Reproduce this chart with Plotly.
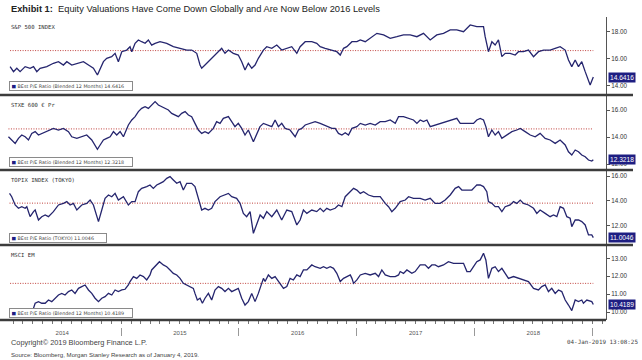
import plotly.graph_objects as go
from datetime import datetime

# ---------------- data (time as decimal year, value = BEst P/E ratio) ----------------
sp_t = [2014.057, 2014.086, 2014.114, 2014.142, 2014.185, 2014.227, 2014.256, 2014.284, 2014.312, 2014.369,
        2014.425, 2014.468, 2014.510, 2014.539, 2014.581, 2014.624, 2014.680, 2014.723, 2014.765, 2014.799,
        2014.822, 2014.850, 2014.878, 2014.920, 2014.949, 2014.977, 2015.006, 2015.048, 2015.076, 2015.091,
        2015.119, 2015.147, 2015.175, 2015.204, 2015.232, 2015.260, 2015.289, 2015.331, 2015.388, 2015.444,
        2015.501, 2015.558, 2015.600, 2015.643, 2015.671, 2015.685, 2015.713, 2015.742, 2015.784, 2015.827,
        2015.855, 2015.883, 2015.912, 2015.954, 2015.996, 2016.025, 2016.053, 2016.081, 2016.110, 2016.138,
        2016.166, 2016.209, 2016.237, 2016.280, 2016.322, 2016.364, 2016.407, 2016.449, 2016.492, 2016.520,
        2016.563, 2016.619, 2016.661, 2016.690, 2016.732, 2016.775, 2016.831, 2016.860, 2016.888, 2016.916,
        2016.959, 2017.001, 2017.030, 2017.072, 2017.114, 2017.171, 2017.228, 2017.284, 2017.341, 2017.397,
        2017.454, 2017.511, 2017.567, 2017.624, 2017.680, 2017.737, 2017.794, 2017.850, 2017.907, 2017.964,
        2018.020, 2018.077, 2018.091, 2018.119, 2018.148, 2018.176, 2018.204, 2018.233, 2018.261, 2018.303,
        2018.346, 2018.374, 2018.417, 2018.459, 2018.502, 2018.544, 2018.587, 2018.643, 2018.686, 2018.728,
        2018.771, 2018.799, 2018.827, 2018.856, 2018.884, 2018.912, 2018.941, 2018.983, 2019.010]
sp_v = [15.41, 15.04, 15.29, 15.04, 15.41, 15.29, 15.41, 15.04, 15.29, 15.41,
        15.66, 15.78, 15.53, 15.78, 15.53, 15.66, 15.78, 15.53, 15.29, 14.79,
        15.29, 15.78, 16.03, 16.15, 16.40, 15.78, 16.52, 16.64, 16.89, 16.52,
        17.14, 17.39, 17.26, 17.14, 17.39, 17.01, 17.14, 17.26, 17.14, 16.89,
        16.77, 16.64, 16.64, 16.40, 15.53, 15.29, 15.53, 15.78, 16.15, 16.52,
        16.77, 16.40, 16.64, 16.40, 16.27, 15.78, 15.16, 15.66, 15.29, 15.53,
        16.03, 16.64, 16.89, 16.77, 17.01, 16.64, 16.77, 16.89, 16.40, 16.89,
        17.26, 17.26, 17.14, 16.89, 16.77, 16.64, 16.52, 16.27, 16.77, 16.89,
        17.26, 17.26, 17.39, 17.26, 17.51, 17.88, 17.76, 17.51, 17.63, 17.76,
        17.76, 17.63, 17.88, 17.39, 17.76, 17.88, 18.13, 18.13, 18.00, 18.50,
        18.37, 18.37, 17.63, 16.52, 17.26, 17.01, 17.39, 16.15, 16.40, 16.40,
        16.27, 16.52, 16.52, 16.64, 16.15, 16.52, 16.64, 16.64, 16.77, 16.89,
        16.64, 15.90, 15.41, 15.90, 15.41, 15.78, 15.04, 14.05, 14.6416]

stxe_t = [2014.043, 2014.071, 2014.100, 2014.128, 2014.156, 2014.185, 2014.213, 2014.241, 2014.270, 2014.298,
          2014.326, 2014.369, 2014.425, 2014.468, 2014.510, 2014.553, 2014.581, 2014.624, 2014.666, 2014.708,
          2014.751, 2014.779, 2014.799, 2014.822, 2014.850, 2014.878, 2014.907, 2014.935, 2014.963, 2014.992,
          2015.020, 2015.062, 2015.091, 2015.119, 2015.147, 2015.175, 2015.204, 2015.232, 2015.260, 2015.289,
          2015.317, 2015.345, 2015.374, 2015.402, 2015.430, 2015.459, 2015.487, 2015.515, 2015.544, 2015.572,
          2015.600, 2015.628, 2015.657, 2015.685, 2015.713, 2015.742, 2015.784, 2015.812, 2015.841, 2015.869,
          2015.912, 2015.940, 2015.968, 2015.996, 2016.025, 2016.053, 2016.081, 2016.124, 2016.152, 2016.180,
          2016.209, 2016.251, 2016.280, 2016.308, 2016.336, 2016.364, 2016.393, 2016.435, 2016.478, 2016.506,
          2016.534, 2016.563, 2016.605, 2016.647, 2016.690, 2016.718, 2016.746, 2016.789, 2016.817, 2016.845,
          2016.874, 2016.902, 2016.930, 2016.959, 2017.001, 2017.030, 2017.072, 2017.114, 2017.157, 2017.199,
          2017.242, 2017.284, 2017.327, 2017.355, 2017.397, 2017.440, 2017.482, 2017.511, 2017.539, 2017.567,
          2017.596, 2017.624, 2017.666, 2017.709, 2017.751, 2017.794, 2017.850, 2017.879, 2017.907, 2017.949,
          2017.992, 2018.020, 2018.049, 2018.077, 2018.097, 2018.119, 2018.148, 2018.176, 2018.204, 2018.233,
          2018.275, 2018.318, 2018.360, 2018.389, 2018.431, 2018.474, 2018.516, 2018.558, 2018.601, 2018.643,
          2018.686, 2018.728, 2018.771, 2018.799, 2018.827, 2018.856, 2018.884, 2018.912, 2018.941, 2018.969,
          2018.997, 2019.010]
stxe_v = [14.02, 13.78, 13.53, 13.90, 14.15, 14.02, 13.78, 14.27, 14.40, 14.15,
          14.27, 14.40, 14.64, 14.52, 14.64, 14.40, 14.02, 13.90, 14.02, 14.15,
          13.78, 13.41, 13.09, 13.41, 13.78, 13.90, 14.02, 14.40, 14.15, 14.40,
          14.02, 14.89, 15.26, 15.51, 15.88, 16.12, 16.25, 16.12, 16.37, 16.62,
          16.37, 16.25, 16.12, 16.00, 15.75, 15.63, 15.51, 15.75, 15.88, 15.63,
          15.51, 15.01, 14.52, 14.27, 14.40, 14.27, 14.64, 15.14, 15.01, 15.38,
          15.51, 15.14, 14.77, 15.01, 14.64, 14.15, 14.52, 13.65, 14.15, 14.77,
          15.01, 14.89, 14.77, 15.26, 14.77, 15.01, 14.64, 14.52, 14.02, 14.52,
          14.64, 14.89, 15.01, 15.14, 15.01, 14.89, 14.77, 14.64, 14.64, 14.27,
          14.15, 14.32, 14.15, 14.64, 14.77, 15.01, 14.89, 15.01, 14.89, 15.14,
          15.14, 15.26, 15.01, 15.51, 15.51, 15.38, 15.26, 15.01, 15.26, 15.14,
          15.26, 14.77, 14.89, 15.01, 15.14, 15.26, 15.38, 15.01, 15.01, 15.01,
          15.01, 15.26, 15.38, 15.26, 14.77, 14.02, 14.52, 14.15, 14.40, 13.90,
          14.15, 14.40, 14.52, 14.64, 14.40, 14.15, 14.02, 14.27, 13.90, 13.78,
          13.53, 13.78, 13.41, 12.91, 12.67, 13.04, 12.91, 12.67, 12.54, 12.30,
          12.22, 12.3218]

topix_t = [2014.052, 2014.071, 2014.100, 2014.128, 2014.156, 2014.185, 2014.199, 2014.227, 2014.256, 2014.270,
           2014.298, 2014.326, 2014.355, 2014.383, 2014.425, 2014.468, 2014.510, 2014.539, 2014.567, 2014.595,
           2014.624, 2014.666, 2014.708, 2014.737, 2014.765, 2014.793, 2014.808, 2014.836, 2014.864, 2014.893,
           2014.921, 2014.949, 2014.977, 2015.020, 2015.062, 2015.091, 2015.119, 2015.147, 2015.175, 2015.218,
           2015.246, 2015.274, 2015.303, 2015.331, 2015.359, 2015.388, 2015.416, 2015.444, 2015.473, 2015.501,
           2015.529, 2015.558, 2015.600, 2015.628, 2015.657, 2015.685, 2015.713, 2015.742, 2015.770, 2015.798,
           2015.841, 2015.883, 2015.912, 2015.940, 2015.982, 2016.011, 2016.039, 2016.067, 2016.096, 2016.124,
           2016.152, 2016.181, 2016.209, 2016.237, 2016.280, 2016.322, 2016.364, 2016.407, 2016.449, 2016.492,
           2016.520, 2016.548, 2016.577, 2016.619, 2016.661, 2016.690, 2016.718, 2016.746, 2016.775, 2016.817,
           2016.845, 2016.874, 2016.902, 2016.930, 2016.973, 2017.001, 2017.030, 2017.058, 2017.100, 2017.143,
           2017.199, 2017.242, 2017.270, 2017.298, 2017.327, 2017.369, 2017.412, 2017.440, 2017.482, 2017.539,
           2017.581, 2017.624, 2017.666, 2017.709, 2017.751, 2017.794, 2017.836, 2017.865, 2017.893, 2017.936,
           2017.978, 2018.006, 2018.020, 2018.049, 2018.077, 2018.105, 2018.119, 2018.148, 2018.176, 2018.204,
           2018.233, 2018.261, 2018.303, 2018.332, 2018.360, 2018.389, 2018.417, 2018.459, 2018.502, 2018.530,
           2018.558, 2018.601, 2018.643, 2018.672, 2018.700, 2018.728, 2018.757, 2018.785, 2018.813, 2018.827,
           2018.856, 2018.884, 2018.912, 2018.941, 2018.969, 2018.997, 2019.010]
topix_v = [14.59, 14.32, 13.65, 13.38, 13.51, 13.38, 13.51, 12.70, 13.11, 13.24,
           12.43, 12.70, 12.84, 12.70, 13.11, 13.65, 13.78, 13.92, 13.65, 13.78,
           13.24, 13.65, 13.78, 14.05, 13.65, 12.70, 12.30, 13.24, 14.19, 14.46,
           14.32, 14.59, 14.05, 14.32, 13.65, 13.92, 13.92, 14.73, 15.00, 15.14,
           15.27, 15.00, 15.27, 15.41, 15.54, 15.81, 15.95, 15.68, 15.41, 15.54,
           14.86, 15.41, 15.41, 15.14, 14.19, 13.24, 13.38, 13.24, 13.38, 13.92,
           14.32, 14.46, 14.59, 14.32, 14.19, 13.78, 12.97, 12.70, 13.11, 11.35,
           12.16, 12.84, 12.57, 13.11, 12.70, 13.24, 12.43, 13.24, 13.11, 12.03,
           12.43, 13.24, 12.97, 13.24, 13.11, 13.38, 13.11, 13.38, 13.24, 13.38,
           13.65, 13.51, 14.32, 14.59, 15.00, 14.86, 14.59, 14.73, 14.46, 14.32,
           14.32, 13.78, 13.51, 13.11, 13.38, 13.92, 14.05, 14.32, 14.19, 14.19,
           14.05, 14.19, 13.78, 13.78, 14.05, 14.46, 15.00, 15.14, 14.86, 14.86,
           14.86, 15.14, 15.27, 15.27, 15.14, 14.73, 13.92, 13.78, 13.51, 13.51,
           13.11, 13.51, 13.65, 13.92, 13.78, 14.05, 13.78, 13.65, 13.38, 12.97,
           13.24, 12.97, 12.70, 12.84, 12.70, 13.51, 13.38, 12.70, 12.57, 11.89,
           12.43, 12.43, 12.30, 12.03, 11.22, 11.22, 11.0046]

msci_t = [2014.057, 2014.100, 2014.142, 2014.185, 2014.227, 2014.256, 2014.270, 2014.298, 2014.326, 2014.355,
          2014.383, 2014.411, 2014.439, 2014.468, 2014.496, 2014.524, 2014.553, 2014.581, 2014.609, 2014.638,
          2014.666, 2014.694, 2014.723, 2014.751, 2014.779, 2014.808, 2014.836, 2014.864, 2014.893, 2014.921,
          2014.949, 2014.977, 2015.006, 2015.034, 2015.062, 2015.076, 2015.105, 2015.133, 2015.161, 2015.190,
          2015.218, 2015.246, 2015.260, 2015.289, 2015.326, 2015.359, 2015.388, 2015.416, 2015.444, 2015.473,
          2015.501, 2015.529, 2015.558, 2015.586, 2015.614, 2015.628, 2015.648, 2015.671, 2015.691, 2015.713,
          2015.742, 2015.770, 2015.798, 2015.827, 2015.855, 2015.883, 2015.912, 2015.940, 2015.968, 2015.996,
          2016.025, 2016.053, 2016.081, 2016.110, 2016.138, 2016.166, 2016.209, 2016.223, 2016.251, 2016.280,
          2016.308, 2016.336, 2016.379, 2016.407, 2016.435, 2016.463, 2016.492, 2016.520, 2016.548, 2016.577,
          2016.619, 2016.647, 2016.690, 2016.718, 2016.746, 2016.775, 2016.803, 2016.831, 2016.860, 2016.888,
          2016.916, 2016.945, 2016.959, 2016.973, 2017.001, 2017.030, 2017.072, 2017.114, 2017.157, 2017.185,
          2017.213, 2017.242, 2017.284, 2017.327, 2017.355, 2017.369, 2017.397, 2017.426, 2017.468, 2017.496,
          2017.539, 2017.581, 2017.609, 2017.638, 2017.666, 2017.694, 2017.737, 2017.779, 2017.822, 2017.865,
          2017.907, 2017.936, 2017.964, 2017.992, 2018.020, 2018.049, 2018.077, 2018.097, 2018.119, 2018.148,
          2018.176, 2018.204, 2018.233, 2018.261, 2018.289, 2018.332, 2018.374, 2018.417, 2018.459, 2018.502,
          2018.544, 2018.572, 2018.601, 2018.629, 2018.657, 2018.686, 2018.714, 2018.742, 2018.771, 2018.799,
          2018.827, 2018.856, 2018.884, 2018.912, 2018.926, 2018.955, 2018.997, 2019.010]
msci_v = [9.95, 9.85, 10.00, 10.02, 10.05, 10.21, 10.49, 10.58, 10.49, 10.49,
          10.67, 10.58, 10.77, 10.95, 11.04, 10.95, 11.14, 11.23, 11.04, 11.32,
          11.42, 11.51, 11.23, 11.04, 10.77, 10.58, 10.77, 10.86, 11.04, 10.95,
          11.23, 11.14, 11.23, 11.27, 11.51, 11.70, 11.98, 11.88, 12.07, 11.98,
          11.79, 12.07, 12.35, 12.53, 12.81, 12.63, 12.53, 12.35, 12.16, 12.07,
          11.88, 11.60, 11.51, 11.42, 11.32, 11.04, 10.67, 10.77, 10.49, 10.77,
          11.04, 10.67, 11.23, 11.42, 11.32, 11.14, 11.32, 11.14, 11.23, 11.32,
          10.77, 10.39, 10.58, 11.04, 10.58, 11.04, 11.88, 11.70, 12.07, 11.88,
          11.98, 11.70, 11.32, 11.42, 11.88, 11.79, 12.07, 11.98, 12.35, 12.35,
          12.63, 12.53, 12.44, 12.53, 12.44, 12.53, 12.44, 12.16, 11.70, 11.88,
          11.98, 12.07, 11.88, 11.60, 11.79, 12.07, 12.16, 12.07, 12.16, 11.98,
          12.35, 12.07, 11.98, 11.98, 12.07, 12.26, 12.16, 12.35, 12.16, 12.26,
          12.63, 12.63, 12.44, 12.63, 12.63, 12.53, 12.63, 12.81, 12.72, 12.72,
          12.72, 12.26, 12.26, 12.53, 12.81, 12.91, 13.28, 12.91, 11.88, 12.44,
          12.53, 12.26, 12.44, 12.16, 11.88, 11.98, 11.88, 11.79, 11.70, 11.32,
          11.23, 11.42, 11.51, 11.14, 11.32, 11.04, 11.23, 11.14, 10.67, 10.39,
          10.08, 10.67, 10.58, 10.67, 10.49, 10.67, 10.58, 10.4189]

panel_names = ["S&P 500 INDEX", "STXE 600 € Pr", "TOPIX INDEX (TOKYO)", "MSCI EM"]
legend_names = ["BEst P/E Ratio (Blended 12 Months)", "BEst P/E Ratio (Blended 12 Months)",
                "BEst P/E Ratio (TOKYO)", "BEst P/E Ratio (Blended 12 Months)"]
last_values = ["14.6416", "12.3218", "11.0046", "10.4189"]
level_2016 = [16.6, 14.6, 13.8, 11.6]           # red dotted reference levels
y_ranges = [[13.31, 19.09], [11.56, 17.11], [10.40, 16.49], [9.553, 13.743]]
y_ticks = [[14, 16, 18], [12, 14, 16], [12, 14, 16], [10, 11, 12, 13]]

title_bold = "Exhibit 1:"
title_text = "Equity Valuations Have Come Down Globally and Are Now Below 2016 Levels"
copyright_text = "Copyright© 2019 Bloomberg Finance L.P."
stamp_text = "04-Jan-2019 13:08:25"
source_text = "Source: Bloomberg, Morgan Stanley Research as of January 4, 2019."

# ---------------- helpers ----------------
W, H = 642, 360
def px(x):
    return x / W
def py(y):
    return 1 - y / H

def to_date(t):
    y = int(t)
    a, b = datetime(y, 1, 1), datetime(y + 1, 1, 1)
    return a + (b - a) * (t - y)

series = [(sp_t, sp_v), (stxe_t, stxe_v), (topix_t, topix_v), (msci_t, msci_v)]
for t, v in series:
    assert len(t) == len(v)

LINE = "#25256e"
RED = "#c0403c"
NAVY = "#1e1e82"

panel_tops = [17, 95, 170, 245]
panel_bots = [95, 170, 245, 320]
legend_tops = [81, 157, 233, 308]
legend_widths = [119, 119, 93, 119]

fig = go.Figure()
for i, (t, v) in enumerate(series):
    yax = "y" if i == 0 else f"y{i+1}"
    d = [to_date(x) for x in t]
    fig.add_trace(go.Scatter(x=[d[0], d[-1]], y=[level_2016[i]] * 2, xaxis="x", yaxis=yax,
                             mode="lines", line=dict(color=RED, width=1, dash="1px,1.5px"),
                             hoverinfo="skip", showlegend=False))
    fig.add_trace(go.Scatter(x=d, y=v, xaxis="x", yaxis=yax, mode="lines",
                             line=dict(color=LINE, width=1.3), showlegend=False,
                             name=panel_names[i]))
# invisible trace that carries the year-boundary tick axis
fig.add_trace(go.Scatter(x=[to_date(msci_t[0]), to_date(msci_t[-1])], y=[msci_v[0], msci_v[-1]],
                         xaxis="x2", yaxis="y4", mode="lines", line=dict(width=0),
                         hoverinfo="skip", showlegend=False))

x_range = [datetime(2014, 1, 6), datetime(2019, 2, 13)]
layout = dict(
    width=W, height=H, margin=dict(l=0, r=0, t=0, b=0),
    paper_bgcolor="white", plot_bgcolor="white", showlegend=False,
    xaxis=dict(domain=[px(5), px(606)], range=x_range, type="date", anchor="y4",
               showline=False, showgrid=False, zeroline=False,
               ticks="outside", ticklen=3, tickcolor="#777", tickwidth=1,
               dtick="M12", tick0="2014-01-01", tickformat="%Y", ticklabelmode="period",
               ticklabelstandoff=4,
               tickfont=dict(family="Liberation Sans", size=6, color="#555"),
               minor=dict(dtick="M1", ticks="outside", ticklen=3, tickcolor="#777", showgrid=False)),
    xaxis2=dict(domain=[px(5), px(606)], range=x_range, type="date", overlaying="x",
                anchor="free", position=py(327), side="bottom", showline=False, showgrid=False,
                zeroline=False, ticks="outside", ticklen=8, tickcolor="#999", tickwidth=1,
                dtick="M12", tick0="2014-01-01", showticklabels=False),
)
for i in range(4):
    key = "yaxis" if i == 0 else f"yaxis{i+1}"
    layout[key] = dict(domain=[py(panel_bots[i]), py(panel_tops[i])], range=y_ranges[i],
                       anchor="x", side="right", showline=True, linecolor="#555", linewidth=1,
                       ticks="outside", ticklen=3, tickcolor="#555", tickvals=y_ticks[i],
                       tickformat=".2f", showgrid=False, zeroline=False,
                       tickfont=dict(family="Liberation Sans", size=6.3, color="#333"))
fig.update_layout(**layout)

shapes = []
for yb in [95, 170, 245]:
    shapes.append(dict(type="line", xref="paper", yref="paper", x0=0, x1=px(633), y0=py(yb), y1=py(yb),
                       line=dict(color="#3c3c3c", width=2.5)))
shapes.append(dict(type="line", xref="paper", yref="paper", x0=0, x1=px(606), y0=py(320), y1=py(320),
                   line=dict(color="#3c3c3c", width=2.5)))
fig.update_layout(shapes=shapes)

ann = []
ann.append(dict(xref="paper", yref="paper", x=px(9), y=py(9), xanchor="left", yanchor="middle",
                text=f"<b>{title_bold}</b>  {title_text}", showarrow=False,
                font=dict(family="Liberation Sans", size=9.3, color="#222")))
for i in range(4):
    yref = "y" if i == 0 else f"y{i+1}"
    ann.append(dict(xref="paper", yref="paper", x=px(9), y=py(panel_tops[i] + 10), xanchor="left",
                    yanchor="middle", text=panel_names[i], showarrow=False,
                    font=dict(family="DejaVu Sans Mono", size=5.6, color="#333")))
    ann.append(dict(xref="paper", yref="paper", x=px(9), y=py(legend_tops[i]), xanchor="left",
                    yanchor="top", showarrow=False, align="left", width=legend_widths[i],
                    text=f"<span style='color:{NAVY}'>■</span> {legend_names[i]} {last_values[i]}",
                    bgcolor="white", bordercolor="#8a8a8a", borderwidth=1, borderpad=1.5,
                    font=dict(family="DejaVu Sans", size=4.8, color="#444")))
    ann.append(dict(xref="paper", yref=yref, x=px(607.5), y=float(last_values[i]), xanchor="left",
                    yanchor="middle", text=last_values[i], showarrow=False, bgcolor=NAVY,
                    borderpad=1, font=dict(family="Liberation Sans", size=6.6, color="white")))
ann.append(dict(xref="paper", yref="paper", x=px(9), y=py(342), xanchor="left", yanchor="middle",
                text=copyright_text, showarrow=False,
                font=dict(family="Liberation Sans", size=7.4, color="#444")))
ann.append(dict(xref="paper", yref="paper", x=px(640), y=py(342), xanchor="right", yanchor="middle",
                text=stamp_text, showarrow=False,
                font=dict(family="DejaVu Sans Mono", size=5.9, color="#444")))
ann.append(dict(xref="paper", yref="paper", x=px(9), y=py(354), xanchor="left", yanchor="middle",
                text=source_text, showarrow=False,
                font=dict(family="Liberation Sans", size=6.1, color="#444")))
fig.update_layout(annotations=ann)

fig.write_html("out.html", config={"displayModeBar": False},
               post_script="document.body.style.margin='0';document.body.style.overflow='hidden';")
